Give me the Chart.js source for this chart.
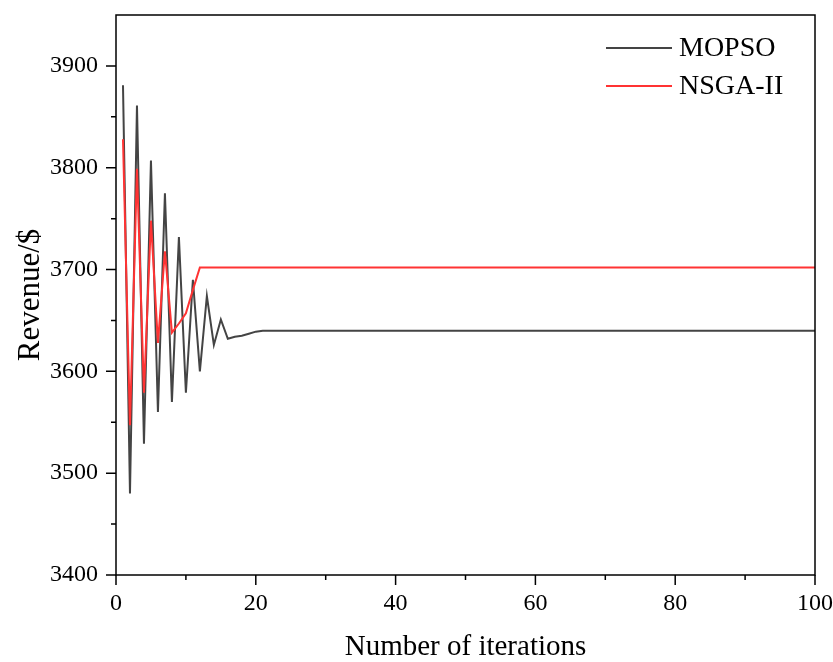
<!DOCTYPE html>
<html>
<head>
<meta charset="utf-8">
<script src="https://cdn.jsdelivr.net/npm/chart.js@4/dist/chart.umd.min.js"></script>
<style>
  html, body { margin: 0; padding: 0; background: #fff; }
  #wrap { width: 833px; height: 662px; }
</style>
</head>
<body>
<div id="wrap"><canvas id="revenueChart" width="833" height="662"></canvas></div>
<script>
// iterations and revenue (flat tail runs to iteration 100)
const mopsoIter = [1, 2, 3, 4, 5, 6, 7, 8, 9, 10, 11, 12, 13, 14, 15, 16, 17, 18, 19, 20, 21, 100];
const mopsoRevenue = [3881, 3480, 3861, 3529, 3807, 3560, 3775, 3570, 3732, 3579, 3690, 3600, 3674, 3626, 3651, 3632, 3634, 3635, 3637, 3639, 3640, 3640];
const nsgaIter = [1, 2, 3, 4, 5, 6, 7, 8, 9, 10, 11, 12, 100];
const nsgaRevenue = [3828, 3547, 3799, 3579, 3748, 3628, 3718, 3638, 3647, 3657, 3680, 3702, 3702];
const xTicks = [0, 20, 40, 60, 80, 100];
const yTicks = [3400, 3500, 3600, 3700, 3800, 3900];

const FONT = "'Liberation Serif', 'Times New Roman', serif";

function toPoints(xs, ys) {
    return xs.map((x, i) => ({ x: x, y: ys[i] }));
}

// frame, tick marks and legend drawn on top of the chart
const framePlugin = {
    id: 'frame',
    afterDraw(chart) {
        const ctx = chart.ctx;
        const a = chart.chartArea;
        const xs = chart.scales.x, ys = chart.scales.y;
        ctx.save();
        ctx.strokeStyle = '#000';
        ctx.lineWidth = 1.5;
        ctx.strokeRect(a.left, a.top, a.right - a.left, a.bottom - a.top);

        ctx.beginPath();
        for (let v = xs.min; v <= xs.max; v += 10) {
            const px = xs.getPixelForValue(v);
            const len = (v % 20 === 0) ? 10 : 5;
            ctx.moveTo(px, a.bottom);
            ctx.lineTo(px, a.bottom + len);
        }
        for (let v = ys.min; v <= 3900; v += 50) {
            const py = ys.getPixelForValue(v);
            const len = (v % 100 === 0) ? 10 : 5;
            ctx.moveTo(a.left, py);
            ctx.lineTo(a.left - len, py);
        }
        ctx.stroke();

        // legend in the top right corner
        const legendItems = [chart.data.datasets[0], chart.data.datasets[1]];
        ctx.font = '28px ' + FONT;
        ctx.textBaseline = 'middle';
        ctx.textAlign = 'left';
        legendItems.forEach((ds, i) => {
            const y = 48 + i * 38;
            ctx.strokeStyle = ds.borderColor;
            ctx.lineWidth = 2;
            ctx.beginPath();
            ctx.moveTo(606, y);
            ctx.lineTo(672, y);
            ctx.stroke();
            ctx.fillStyle = '#000';
            ctx.fillText(ds.label, 679, y + 1);
        });
        ctx.restore();
    }
};

window.addEventListener('load', function () {
    const ctx = document.getElementById('revenueChart').getContext('2d');
    new Chart(ctx, {
        type: 'line',
        data: {
            datasets: [
                {
                    label: 'MOPSO',
                    data: toPoints(mopsoIter, mopsoRevenue),
                    borderColor: '#444444',
                    borderWidth: 2,
                    pointRadius: 0,
                    tension: 0,
                    order: 1
                },
                {
                    label: 'NSGA-II',
                    data: toPoints(nsgaIter, nsgaRevenue),
                    borderColor: '#ff3333',
                    borderWidth: 2,
                    pointRadius: 0,
                    tension: 0,
                    order: 0
                }
            ]
        },
        options: {
            responsive: false,
            animation: false,
            layout: { padding: { left: 0, right: 18, top: 15, bottom: 0 } },
            plugins: {
                legend: { display: false },
                tooltip: { enabled: false }
            },
            scales: {
                x: {
                    type: 'linear',
                    min: 0,
                    max: 100,
                    afterBuildTicks: function (scale) {
                        scale.ticks = xTicks.map(v => ({ value: v }));
                    },
                    afterFit: function (scale) {
                        scale.height = 87;
                        scale.paddingLeft = 0;
                        scale.paddingRight = 0;
                    },
                    grid: { display: false, drawTicks: false },
                    border: { display: false },
                    ticks: {
                        color: '#000',
                        padding: 14,
                        maxRotation: 0,
                        callback: v => String(v),
                        font: { family: FONT, size: 24 }
                    },
                    title: {
                        display: true,
                        text: 'Number of iterations',
                        color: '#000',
                        padding: { top: 0, bottom: 0 },
                        font: { family: FONT, size: 29, lineHeight: 1 }
                    }
                },
                y: {
                    type: 'linear',
                    min: 3400,
                    max: 3950,
                    afterBuildTicks: function (scale) {
                        scale.ticks = yTicks.map(v => ({ value: v }));
                    },
                    afterFit: function (scale) {
                        scale.width = 116;
                        scale.paddingTop = 0;
                        scale.paddingBottom = 0;
                    },
                    grid: { display: false, drawTicks: false },
                    border: { display: false },
                    ticks: {
                        color: '#000',
                        padding: 18,
                        callback: v => String(v),
                        font: { family: FONT, size: 24 }
                    },
                    title: {
                        display: true,
                        text: 'Revenue/$',
                        color: '#000',
                        padding: { top: 15, bottom: 0 },
                        font: { family: FONT, size: 31, lineHeight: 1 }
                    }
                }
            }
        },
        plugins: [framePlugin]
    });
});
</script>
</body>
</html>
